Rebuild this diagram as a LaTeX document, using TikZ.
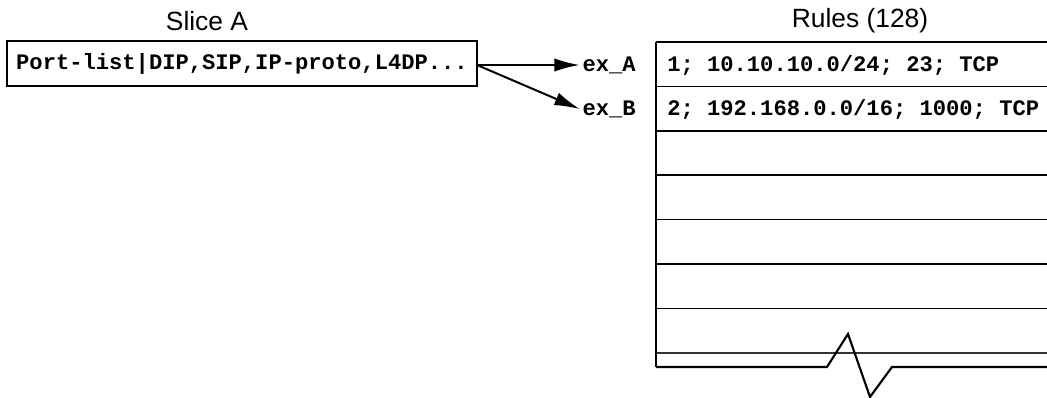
\documentclass[tikz,border=0pt]{standalone}
\usepackage{fontspec}
\setmainfont{Liberation Sans}
\newfontfamily\codefont{Liberation Mono}
\usetikzlibrary{arrows.meta}
\tikzset{
  code/.style={font=\codefont\bfseries\fontsize{16.6}{20}\selectfont, inner sep=0pt},
  heading/.style={font=\fontsize{19.8}{23}\selectfont},
  rowline/.style={line width=1.2pt},
  pointer/.style={-{Latex[length=19pt,width=10pt]}, line width=1.5pt}
}
\begin{document}
\begin{tikzpicture}[x=0.75pt, y=-0.75pt]
        \useasboundingbox (0,0) rectangle (1047,398);

        % Slice A
        \node[heading] (slicetitle) at (207,21) {Slice A};
        \node[code, draw, line width=0.8pt, minimum width=352.5pt, minimum height=33.75pt] (slice) at (242,63.5) {Port-list|DIP,SIP,IP-proto,L4DP...};
        \coordinate (fork) at (477,65);

        % Rules table
        \node[heading] (rulestitle) at (860,21) {Rules (128)};
        \foreach \k in {0,...,7} {
            \draw[rowline] (656,42+44.4*\k) -- (1047,42+44.4*\k);
        }
        \draw[line width=0.8pt, black!80] (656,353) -- (1047,353);
        \draw[rowline] (656,42) -- (656,367);
        % broken bottom edge
        \draw[line width=1.6pt] (656,367) -- (827,367) -- (848,334) -- (870,397) -- (892,367) -- (1047,367);

        \node[code, anchor=west] (rowA) at (667,65) {1; 10.10.10.0/24; 23; TCP};
        \node[code, anchor=west] (rowB) at (667,109) {2; 192.168.0.0/16; 1000; TCP};
        \node[code, anchor=east] (exA) at (636,65) {ex\_A};
        \node[code, anchor=east] (exB) at (636,109) {ex\_B};

        \draw[pointer] (fork) -- ([xshift=-2pt]exA.west);
        \draw[pointer] (fork) -- ([xshift=-2pt]exB.west);
    \end{tikzpicture}
\end{document}
